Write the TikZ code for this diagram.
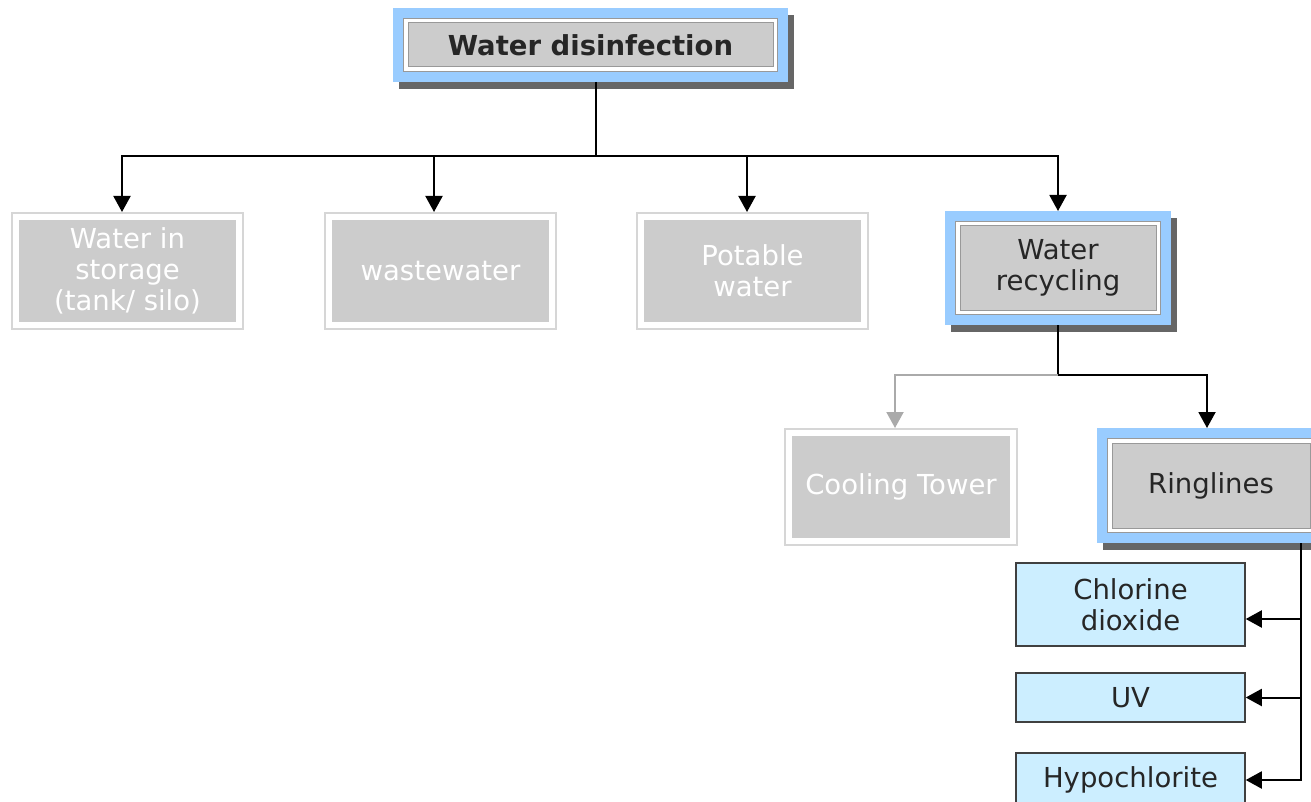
\documentclass[tikz,border=0pt]{standalone}
\usepackage{fontspec}
\setmainfont{DejaVu Sans}
\usetikzlibrary{arrows.meta}

\definecolor{azulmarco}{HTML}{99CCFF}
\definecolor{grisbox}{HTML}{CCCCCC}
\definecolor{grissombra}{HTML}{666666}
\definecolor{grislinea}{HTML}{999999}
\definecolor{grismarco}{HTML}{D6D6D6}
\definecolor{grisflecha}{HTML}{AAAAAA}
\definecolor{azulmetodo}{HTML}{CCEEFF}

\newcommand{\tamano}{\fontsize{27.5}{31}\selectfont}

\tikzset{
  activo/.style={rectangle, fill=grisbox, draw=grislinea, line width=1pt,
    inner sep=0pt, outer sep=15pt, align=center, text=black!85, font=\tamano,
    preaction={draw=grissombra, line width=30pt, transform canvas={shift={(6pt,-7pt)}}},
    preaction={draw=azulmarco, line width=30pt},
    preaction={draw=grislinea, line width=10pt},
    preaction={draw=white, line width=8pt}},
  inactivo/.style={rectangle, fill=grisbox, inner sep=0pt, outer sep=8pt,
    align=center, text=white, font=\tamano,
    minimum width=217pt, minimum height=102pt,
    preaction={draw=grismarco, line width=16pt},
    preaction={draw=white, line width=12pt}},
  metodo/.style={rectangle, fill=azulmetodo, draw=black!75, line width=1.5pt,
    inner sep=0pt, minimum width=229pt, align=center, text=black!85, font=\tamano},
  flecha/.style={-{Triangle[width=17pt,length=16pt]}, line width=2pt},
  flechagris/.style={flecha, draw=grisflecha, color=grisflecha},
}

\begin{document}
\begin{tikzpicture}[x=1pt,y=-1pt]
%\draw[help lines](0,0) grid (1311,802);
\useasboundingbox (0,0) rectangle (1311,802); % marco
\clip (0,0) rectangle (1311,802);

\node[activo, minimum width=365pt, minimum height=44pt, font=\tamano\bfseries] (desinfeccion) at (590.5,45) {Water disinfection}; % raiz

\node[inactivo] (storage) at (127.5,271) {Water in\\storage\\(tank/ silo)}; % hijo 1
\node[inactivo] (wastewater) at (440.5,271) {wastewater}; % hijo 2
\node[inactivo] (potable) at (752.5,271) {Potable\\water}; % hijo 3
\node[activo, minimum width=196pt, minimum height=84pt] (recycling) at (1058,268) {Water\\recycling}; % hijo 4

\node[inactivo, minimum width=218pt] (cooling) at (901,487) {Cooling Tower}; % nieto 1
\node[activo, minimum width=198pt, minimum height=85pt] (ringlines) at (1211,485.5) {Ringlines}; % nieto 2

\node[metodo, minimum height=83pt] (chlorine) at (1130.5,604.5) {Chlorine\\dioxide}; % metodo 1
\node[metodo, minimum height=49pt] (uv) at (1130.5,697.5) {UV}; % metodo 2
\node[metodo, minimum height=54pt] (hypo) at (1130.5,780) {Hypochlorite}; % metodo 3

\coordinate (bus) at (596,156); % barra 1
\coordinate (fork) at (1058,375); % barra 2
\coordinate (rail) at (1301,548); % barra 3

\draw[line width=2pt] (desinfeccion.south -| bus) -- (bus); % tronco
\foreach \destino/\dx in {storage/-5.5, wastewater/-6.5, potable/-5.5, recycling/0}
  \draw[flecha] (bus) -| ([xshift=\dx pt]\destino.north); % flechas fila 1

\draw[line width=2pt] (recycling.south) -- (fork); % tronco 2
\draw[flechagris] (fork) -| ([xshift=-6pt]cooling.north); % flecha gris
\draw[flecha] (fork) -| ([xshift=-4pt]ringlines.north); % flecha negra

\draw[flecha] (ringlines.south -| rail) |- ([yshift=-14.5pt]chlorine.east); % flecha metodo 1
\draw[flecha] (ringlines.south -| rail) |- (uv.east); % flecha metodo 2
\draw[flecha] (ringlines.south -| rail) |- (hypo.east); % flecha metodo 3

\end{tikzpicture}
\end{document}
